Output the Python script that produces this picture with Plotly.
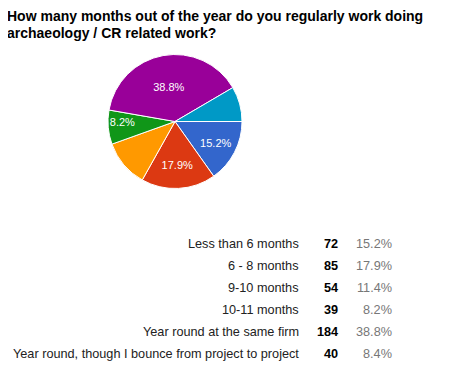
import plotly.graph_objects as go

categories = ["Less than 6 months", "6 - 8 months", "9-10 months", "10-11 months",
              "Year round at the same firm", "Year round, though I bounce from project to project"]
counts = [72, 85, 54, 39, 184, 40]
pct_labels = ["15.2%", "17.9%", "11.4%", "8.2%", "38.8%", "8.4%"]
slice_text = ["15.2%", "17.9%", "", "8.2%", "38.8%", ""]
colors = ["#3366cc", "#dc3912", "#ff9900", "#109618", "#990099", "#0099c6"]
title_lines = ["How many months out of the year do you regularly work doing",
               "archaeology / CR related work?"]

# page body has an 8px margin; figure sized to fit the window
OFF = 8
W, H = 442, 361
FONT = "Arial, Liberation Sans, sans-serif"

def px(x):
    return (x - OFF) / W

def py(y):
    return 1 - (y - OFF) / H

cx, cy, r = 175, 121.5, 67

fig = go.Figure(go.Pie(
    labels=categories, values=counts, text=slice_text, textinfo="text",
    sort=False, direction="clockwise", rotation=90,
    marker=dict(colors=colors, line=dict(color="white", width=1)),
    textfont=dict(color="white", size=11, family=FONT),
    textposition="inside", insidetextorientation="horizontal",
    hoverinfo="label+value+percent", showlegend=False,
    domain=dict(x=[px(cx - r), px(cx + r)], y=[py(cy + r), py(cy - r)]),
))

ann = []
for i, t in enumerate(title_lines):
    ann.append(dict(text="<b>" + t + "</b>", x=px(5), y=py(15.5 + 17 * i), xref="paper", yref="paper",
                    xanchor="left", yanchor="middle", align="left", showarrow=False,
                    font=dict(size=14, color="#000", family=FONT)))
TS = 12.7
for i, (c, n, p) in enumerate(zip(categories, counts, pct_labels)):
    yy = py(243.5 + 22 * i)
    ann.append(dict(text=c, x=px(301), y=yy, xref="paper", yref="paper", xanchor="right",
                    yanchor="middle", showarrow=False, font=dict(size=TS, color="#222", family=FONT)))
    ann.append(dict(text="<b>%d</b>" % n, x=px(340), y=yy, xref="paper", yref="paper", xanchor="right",
                    yanchor="middle", showarrow=False, font=dict(size=TS, color="#000", family=FONT)))
    ann.append(dict(text=p, x=px(394), y=yy, xref="paper", yref="paper", xanchor="right",
                    yanchor="middle", showarrow=False, font=dict(size=TS, color="#777", family=FONT)))

fig.update_layout(width=W, height=H, margin=dict(l=0, r=0, t=0, b=0),
                  paper_bgcolor="white", plot_bgcolor="white", annotations=ann)
fig.write_html("out.html")
